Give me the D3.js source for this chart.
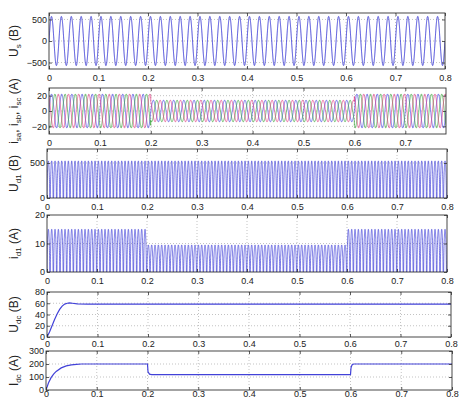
<!DOCTYPE html>
<html>
<head>
<meta charset="utf-8">
<script src="https://cdn.jsdelivr.net/npm/d3@7"></script>
<style>
  body { margin: 0; background: #fff; }
  svg { display: block; }
  text { font-family: "Liberation Sans", Arial, sans-serif; fill: #222; }
</style>
</head>
<body>
<svg id="chart" width="462" height="401"></svg>
<script>
// --- data ---
// switching instants of the load (s)
const segBreaks = [0, 0.2, 0.6, 0.8];
// supply voltage U_s: 50 Hz, peak
const lineFreq = 50;
const usPeak = 570;
// phase currents i_sa, i_sb, i_sc: peak per segment
const isPeak = [22, 14, 22];
// rectified pulses U_d1 and i_d1: repetition rate and peak per segment
const pulseFreq = 150;
const ud1Peak = [530, 530, 530];
const id1Peak = [15, 9.5, 15];
// DC voltage U_dc (start-up transient, then flat)
const udcTime = [0, 0.005, 0.01, 0.015, 0.02, 0.025, 0.03, 0.035, 0.04, 0.045, 0.05, 0.06, 0.08, 0.8];
const udcVal  = [0, 9, 20, 31, 41, 49, 55, 58.5, 60, 60.5, 60, 59, 58.5, 58.5];
// DC current I_dc
const idcTime = [0, 0.005, 0.01, 0.015, 0.02, 0.03, 0.04, 0.05, 0.06, 0.07, 0.2, 0.201, 0.204, 0.208, 0.6, 0.601, 0.603, 0.606, 0.8];
const idcVal  = [0, 55, 95, 122, 143, 170, 185, 193, 197, 200, 200, 140, 122, 118, 118, 170, 193, 200, 200];

const xTicks8 = [0, 0.1, 0.2, 0.3, 0.4, 0.5, 0.6, 0.7, 0.8];
const xTicks7 = [0, 0.1, 0.2, 0.3, 0.4, 0.5, 0.6, 0.7];

const lineBlue = "#4242d8";
const phaseColors = ["#3535e0", "#2ca02c", "#e0307a"];

// --- helpers ---
const segIndex = t => (t < segBreaks[1] ? 0 : t < segBreaks[2] ? 1 : 2);
const dt = 0.0001;
const times = d3.range(0, 0.8 + dt / 2, dt);

const usSeries = times.map(t => [t, usPeak * Math.sin(2 * Math.PI * lineFreq * t)]);
const isSeries = [0, 1, 2].map(k =>
  times.filter(t => t <= 0.78).map(t => [t, isPeak[segIndex(t)] * Math.sin(2 * Math.PI * lineFreq * t - k * 2 * Math.PI / 3)]));
// pulse shape: arch for most of the period, short gap at zero
const pulse = (t, peaks) => {
  const ph = (t * pulseFreq) % 1;
  return ph < 0.82 ? peaks[segIndex(t)] * Math.pow(Math.sin(Math.PI * ph / 0.82), 0.6) : 0;
};
const ud1Series = times.map(t => [t, pulse(t, ud1Peak)]);
const id1Series = times.map(t => [t, pulse(t, id1Peak)]);
const udcSeries = udcTime.map((t, i) => [t, udcVal[i]]);
const idcSeries = idcTime.map((t, i) => [t, idcVal[i]]);

// panel layout (scan is slightly skewed, so each frame has its own box)
const panels = [
  { top: 13, bottom: 69, left: 49, right: 445, xMax: 0.8, xt: xTicks8, y: [-650, 650], yt: [-500, 0, 500],
    label: ["U", "s", " (В)"], series: [usSeries], colors: [lineBlue], width: 1 },
  { top: 88, bottom: 134, left: 49, right: 446, xMax: 0.78, xt: xTicks7, y: [-30, 30], yt: [-20, 0, 20],
    label: ["i", "sa", ", i", "sb", ", i", "sc", " (А)"], series: isSeries, colors: phaseColors, width: 0.8 },
  { top: 149, bottom: 198, left: 47, right: 447, xMax: 0.8, xt: xTicks8, y: [0, 700], yt: [0, 500],
    label: ["U", "d1", " (В)"], series: [ud1Series], colors: [lineBlue], width: 0.7 },
  { top: 215, bottom: 272, left: 47, right: 447, xMax: 0.8, xt: xTicks8, y: [0, 20], yt: [0, 10, 20],
    label: ["i", "d1", " (А)"], series: [id1Series], colors: [lineBlue], width: 0.7 },
  { top: 292, bottom: 337, left: 47, right: 451, xMax: 0.8, xt: xTicks8, y: [0, 80], yt: [0, 20, 40, 60, 80],
    label: ["U", "dc", " (В)"], series: [udcSeries], colors: [lineBlue], width: 1.2, xPad: 4 },
  { top: 351, bottom: 390, left: 46, right: 452, xMax: 0.8, xt: xTicks8, y: [0, 300], yt: [0, 100, 200, 300],
    label: ["I", "dc", " (А)"], series: [idcSeries], colors: [lineBlue], width: 1.2, xPad: 1 }
];

const svg = d3.select("#chart");
const fmtX = d => (d === 0 ? "0" : d3.format(".1f")(d));

panels.forEach((p, pi) => {
  const x = d3.scaleLinear().domain([0, p.xMax]).range([p.left, p.right]);
  const y = d3.scaleLinear().domain(p.y).range([p.bottom, p.top]);
  const g = svg.append("g").attr("class", "panel-" + pi);

  g.append("clipPath").attr("id", "clip" + pi)
    .append("rect").attr("x", p.left).attr("y", p.top)
    .attr("width", p.right - p.left).attr("height", p.bottom - p.top);

  // dotted grid
  const grid = g.append("g").attr("stroke", "#9a9a9a").attr("stroke-width", 0.6)
    .attr("stroke-dasharray", "1,2");
  grid.selectAll(".gx").data(p.xt.filter(v => v > 0 && v < p.xMax)).join("line")
    .attr("x1", d => x(d)).attr("x2", d => x(d)).attr("y1", p.top).attr("y2", p.bottom);
  grid.selectAll(".gy").data(p.yt.filter(v => v > p.y[0] && v < p.y[1])).join("line")
    .attr("x1", p.left).attr("x2", p.right).attr("y1", d => y(d)).attr("y2", d => y(d));

  // traces
  const line = d3.line().x(d => x(d[0])).y(d => y(d[1]));
  const traces = g.append("g").attr("clip-path", `url(#clip${pi})`);
  p.series.forEach((s, si) => {
    traces.append("path").datum(s).attr("d", line)
      .attr("fill", "none").attr("stroke", p.colors[si])
      .attr("stroke-width", p.width).attr("stroke-opacity", p.series.length > 1 ? 0.85 : 1);
  });

  // axes, MATLAB style: ticks inside on all four sides
  const axB = g.append("g").attr("transform", `translate(0,${p.bottom})`)
    .call(d3.axisBottom(x).tickValues(p.xt).tickFormat(fmtX).tickSizeInner(-3).tickSizeOuter(0)
      .tickPadding(p.xPad !== undefined ? p.xPad : 6));
  const axT = g.append("g").attr("transform", `translate(0,${p.top})`)
    .call(d3.axisTop(x).tickValues(p.xt).tickFormat("").tickSizeInner(-3).tickSizeOuter(0));
  const axL = g.append("g").attr("transform", `translate(${p.left},0)`)
    .call(d3.axisLeft(y).tickValues(p.yt).tickFormat(d3.format("d")).tickSizeInner(-3).tickSizeOuter(0).tickPadding(2));
  const axR = g.append("g").attr("transform", `translate(${p.right},0)`)
    .call(d3.axisRight(y).tickValues(p.yt).tickFormat("").tickSizeInner(-3).tickSizeOuter(0));
  [axB, axT, axL, axR].forEach(a => {
    a.select(".domain").remove();
    a.selectAll("line").attr("stroke", "#333").attr("stroke-width", 0.8);
    a.selectAll("text").attr("font-size", 9).attr("fill", "#222")
      .attr("font-family", '"Liberation Sans", Arial, sans-serif');
  });
  g.append("rect").attr("x", p.left).attr("y", p.top)
    .attr("width", p.right - p.left).attr("height", p.bottom - p.top)
    .attr("fill", "none").attr("stroke", "#333").attr("stroke-width", 0.9);

  // rotated y label with subscripts
  const cy = (p.top + p.bottom) / 2;
  const lab = g.append("text")
    .attr("transform", `translate(18,${cy}) rotate(-90)`)
    .attr("text-anchor", "middle").attr("font-size", 12);
  p.label.forEach((part, i) => {
    const sub = i % 2 === 1;
    lab.append("tspan").text(part)
      .attr("font-size", sub ? 8 : 12)
      .attr("dy", sub ? 3 : (i > 0 ? -3 : 0));
  });
});
</script>
</body>
</html>
